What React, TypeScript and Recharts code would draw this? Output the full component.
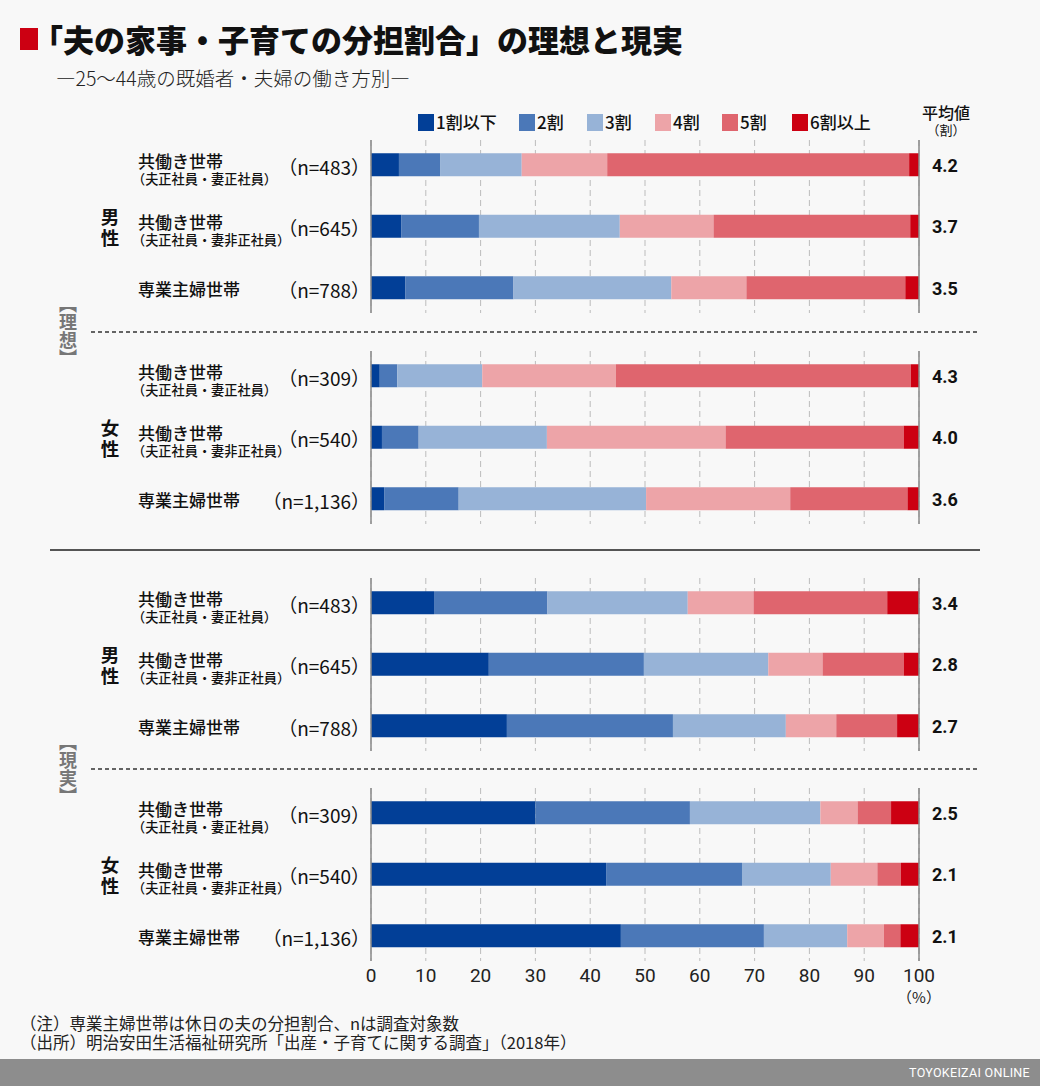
import { Bar, BarChart, CartesianGrid, XAxis, YAxis } from "recharts";

const JP = "'Noto Sans CJK JP', 'Noto Sans', sans-serif";
const NUM = "'Liberation Sans Narrow', Roboto, 'Noto Sans CJK JP', sans-serif";

const seriesNames = ["1割以下", "2割", "3割", "4割", "5割", "6割以上"];
const seriesColors = ["#023f97", "#4b78b8", "#97b3d7", "#eda4a8", "#df656e", "#cc0012"];

const householdLabels = ["共働き世帯", "共働き世帯", "専業主婦世帯"];
const householdSubLabels = ["（夫正社員・妻正社員）", "（夫正社員・妻非正社員）", ""];

// rows: 理想(男性3, 女性3), 現実(男性3, 女性3)
const sampleSizes = ["483", "645", "788", "309", "540", "1,136", "483", "645", "788", "309", "540", "1,136"];
const averageShares = ["4.2", "3.7", "3.5", "4.3", "4.0", "3.6", "3.4", "2.8", "2.7", "2.5", "2.1", "2.1"];

const share1 = [5.1, 5.5, 6.3, 1.6, 2.0, 2.4, 11.5, 21.5, 24.8, 30.0, 42.9, 45.6];
const share2 = [7.5, 14.2, 19.7, 3.2, 6.7, 13.6, 20.7, 28.3, 30.3, 28.2, 24.8, 26.1];
const share3 = [14.9, 25.7, 28.8, 15.5, 23.4, 34.2, 25.6, 22.7, 20.6, 23.8, 16.2, 15.2];
const share4 = [15.6, 17.1, 13.7, 24.4, 32.6, 26.3, 12.0, 9.9, 9.2, 6.8, 8.5, 6.7];
const share5 = [55.1, 35.9, 29.0, 53.8, 32.5, 21.4, 24.4, 14.8, 11.1, 6.1, 4.3, 3.0];
const share6 = [1.8, 1.6, 2.5, 1.5, 2.8, 2.1, 5.8, 2.8, 4.0, 5.1, 3.3, 3.4];

const xTicks = [0, 10, 20, 30, 40, 50, 60, 70, 80, 90, 100];

const shares = [share1, share2, share3, share4, share5, share6];

const rows = sampleSizes.map((n, i) => {
  const row: Record<string, string | number> = {
    id: `row${i}`,
    label: householdLabels[i % 3],
    sub: householdSubLabels[i % 3],
    n,
    avg: averageShares[i],
  };
  shares.forEach((s, k) => {
    row[`s${k}`] = s[i];
  });
  return row;
});

const groups = [
  { top: 140, sex: "男性", rows: rows.slice(0, 3) },
  { top: 351, sex: "女性", rows: rows.slice(3, 6) },
  { top: 578, sex: "男性", rows: rows.slice(6, 9) },
  { top: 788, sex: "女性", rows: rows.slice(9, 12) },
];

const PLOT_H = 173;
const ROW_PAD = -5.75;

const findRow = (id: string) => rows.find((r) => r.id === id)!;

const LeftTick = (props: any) => {
  const { y, payload } = props;
  const row = findRow(payload.value);
  return (
    <g>
      {row.sub ? (
        <>
          <text x={138} y={y - 5} fontSize={17} fontWeight={500} fill="#111" fontFamily={JP} dominantBaseline="central">
            {row.label}
          </text>
          <text x={132} y={y + 13} fontSize={13.2} fontWeight={500} fill="#111" fontFamily={JP} dominantBaseline="central">
            {row.sub}
          </text>
        </>
      ) : (
        <text x={138} y={y} fontSize={17} fontWeight={500} fill="#111" fontFamily={JP} dominantBaseline="central">
          {row.label}
        </text>
      )}
      <text x={370} y={y + 1} fontSize={19} fill="#111" fontFamily={JP} textAnchor="end" dominantBaseline="central">
        {`（n=${row.n}）`}
      </text>
    </g>
  );
};

const RightTick = (props: any) => {
  const { y, payload } = props;
  const row = findRow(payload.value);
  return (
    <text x={932} y={y} fontSize={18} fontWeight={700} fill="#111" fontFamily="Roboto, sans-serif" dominantBaseline="central">
      {row.avg}
    </text>
  );
};

const GroupChart = ({ data, showAxis }: { data: any[]; showAxis: boolean }) => (
  <BarChart
    width={1040}
    height={PLOT_H + (showAxis ? 40 : 0)}
    data={data}
    layout="vertical"
    margin={{ top: 0, right: 0, bottom: 0, left: 0 }}
  >
    <CartesianGrid horizontal={false} stroke="#bcbcbc" strokeDasharray="6 4" />
    <XAxis
      type="number"
      domain={[0, 100]}
      ticks={xTicks}
      hide={!showAxis}
      height={40}
      axisLine={false}
      tickLine={false}
      tick={{ fontSize: 19, fill: "#222", fontFamily: NUM }}
    />
    <YAxis
      yAxisId="left"
      type="category"
      dataKey="id"
      width={371}
      padding={{ top: ROW_PAD, bottom: ROW_PAD }}
      axisLine={{ stroke: "#8a8a8a", strokeWidth: 1.5 }}
      tickLine={false}
      tick={(p: any) => <LeftTick {...p} />}
    />
    <YAxis
      yAxisId="right"
      orientation="right"
      type="category"
      dataKey="id"
      width={121}
      padding={{ top: ROW_PAD, bottom: ROW_PAD }}
      axisLine={{ stroke: "#8a8a8a", strokeWidth: 1.5 }}
      tickLine={false}
      tick={(p: any) => <RightTick {...p} />}
    />
    {seriesNames.map((name, k) => (
      <Bar
        key={name}
        name={name}
        dataKey={`s${k}`}
        yAxisId="left"
        stackId="share"
        fill={seriesColors[k]}
        barSize={23}
        isAnimationActive={false}
      />
    ))}
  </BarChart>
);

const legendX = [418, 519, 587, 655, 722, 792];

export default function App() {
  return (
    <div
      style={{
        position: "absolute",
        left: 0,
        top: 0,
        width: 1040,
        height: 1086,
        background: "#f8f8f8",
        fontFamily: JP,
        color: "#111",
        overflow: "hidden",
      }}
    >
      {/* title */}
      <div style={{ position: "absolute", left: 20, top: 28, width: 18, height: 22, background: "#cc0012" }} />
      <div style={{ position: "absolute", left: 32, top: 19, fontSize: 31, fontWeight: 900, lineHeight: "40px", whiteSpace: "nowrap" }}>
        「夫の家事・子育ての分担割合」の理想と現実
      </div>
      <div style={{ position: "absolute", left: 56, top: 66, fontSize: 19.5, fontWeight: 300, lineHeight: "24px", color: "#222", whiteSpace: "nowrap" }}>
        ―25～44歳の既婚者・夫婦の働き方別―
      </div>

      {/* legend */}
      {seriesNames.map((name, k) => (
        <div key={name} style={{ position: "absolute", left: legendX[k], top: 113, display: "flex", alignItems: "center", whiteSpace: "nowrap" }}>
          <div style={{ width: 16, height: 17, background: seriesColors[k], marginRight: 2 }} />
          <span style={{ fontSize: 17, fontWeight: 500, lineHeight: "18px" }}>{name}</span>
        </div>
      ))}
      <div style={{ position: "absolute", left: 906, top: 102, width: 80, textAlign: "center", fontSize: 16, fontWeight: 500, lineHeight: "20px" }}>
        平均値
      </div>
      <div style={{ position: "absolute", left: 906, top: 122, width: 80, textAlign: "center", fontSize: 13, lineHeight: "16px" }}>
        （割）
      </div>

      {/* dividers */}
      <svg width={1040} height={1086} style={{ position: "absolute", left: 0, top: 0 }}>
        <line x1={91} x2={980} y1={332} y2={332} stroke="#333" strokeWidth={1.4} strokeDasharray="4 3" />
        <line x1={50} x2={980} y1={550} y2={550} stroke="#555" strokeWidth={2} />
        <line x1={91} x2={980} y1={769} y2={769} stroke="#333" strokeWidth={1.4} strokeDasharray="4 3" />
      </svg>

      {/* charts */}
      {groups.map((g, gi) => (
        <div key={gi} style={{ position: "absolute", left: 0, top: g.top }}>
          <GroupChart data={g.rows} showAxis={gi === groups.length - 1} />
        </div>
      ))}

      {/* group labels */}
      {groups.map((g, gi) =>
        g.sex.split("").map((ch, ci) => (
          <div
            key={`sex${gi}-${ci}`}
            style={{ position: "absolute", left: 100, top: g.top + 25 + 61.5 - 20 + ci * 21, width: 20, height: 19, fontSize: 18.5, fontWeight: 700, lineHeight: "19px", textAlign: "center" }}
          >
            {ch}
          </div>
        ))
      )}
      {[
        { text: "【理想】", y: 331 },
        { text: "【現実】", y: 769 },
      ].map((s) => (
        <div
          key={s.text}
          style={{ position: "absolute", left: 58, top: s.y - 36, height: 72, writingMode: "vertical-rl", fontSize: 18, fontWeight: 700, lineHeight: "20px", color: "#777", background: "#f8f8f8" }}
        >
          {s.text}
        </div>
      ))}

      <div style={{ position: "absolute", left: 889, top: 987, width: 60, textAlign: "center", fontSize: 15, lineHeight: "20px", color: "#222" }}>
        （%）
      </div>

      {/* notes */}
      <div style={{ position: "absolute", left: 20, top: 1014, fontSize: 16.5, lineHeight: "19px", color: "#222", whiteSpace: "nowrap" }}>
        <div>（注）専業主婦世帯は休日の夫の分担割合、nは調査対象数</div>
        <div>（出所）明治安田生活福祉研究所「出産・子育てに関する調査」（2018年）</div>
      </div>

      {/* footer */}
      <div style={{ position: "absolute", left: 0, top: 1059, width: 1040, height: 27, background: "#8d8d8d" }}>
        <div style={{ position: "absolute", right: 10, top: 6, fontSize: 12.5, color: "#fff", fontFamily: NUM, letterSpacing: 0.3 }}>
          TOYOKEIZAI ONLINE
        </div>
      </div>
    </div>
  );
}
